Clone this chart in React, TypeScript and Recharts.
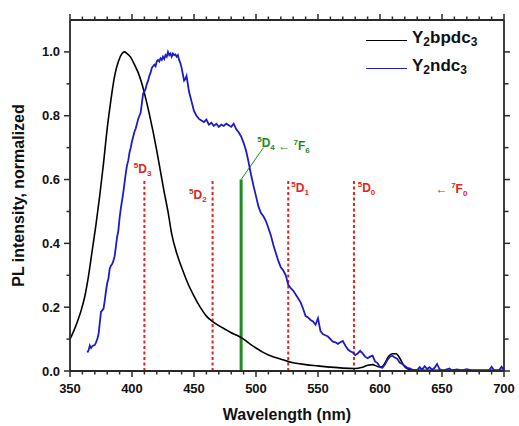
import React from "react";
import {
  ComposedChart,
  Line,
  XAxis,
  YAxis,
  ReferenceLine,
  ReferenceDot,
} from "recharts";

// ---------- data ----------
const bpdcX = [350,353,356,359,362,365,368,371,374,377,380,383,386,389,392,394,396,399,402,405,408,411,414,417,420,423,426,429,432,436,440,445,450,455,460,465,470,475,480,485,490,495,500,505,510,515,520,525,530,540,550,560,570,580,585,590,594,598,601,604,607,610,613,616,619,622,628,640,660,680,700];
const bpdcY = [0.1,0.125,0.155,0.19,0.235,0.3,0.38,0.46,0.55,0.65,0.76,0.85,0.925,0.97,0.995,1.0,0.995,0.983,0.96,0.935,0.9,0.855,0.805,0.75,0.69,0.625,0.56,0.5,0.43,0.37,0.325,0.275,0.235,0.2,0.172,0.155,0.142,0.131,0.12,0.111,0.1,0.085,0.072,0.06,0.05,0.043,0.037,0.031,0.026,0.02,0.016,0.012,0.009,0.008,0.011,0.018,0.02,0.014,0.012,0.025,0.046,0.054,0.054,0.04,0.018,0.007,0.003,0.002,0.002,0.002,0.002];

const ndcX = [364,365,366,367,368,369,370,371,372,373,374,375,376,377,378,379,380,381,382,383,384,385,386,387,388,389,390,391,392,393,394,395,396,397,398,399,400,401,402,403,404,405,406,407,408,409,410,411,412,413,414,415,416,417,418,419,420,421,422,423,424,425,426,427,428,429,430,431,432,433,434,435,436,437,438,439,440,441,442,443,444,445,446,447,448,449,450,452,454,456,458,460,462,464,466,468,470,472,474,476,478,480,482,484,486,488,490,492,494,496,498,500,502,504,506,508,510,512,514,516,518,520,522,524,526,528,530,532,534,536,538,540,542,544,546,548,550,552,554,556,558,560,562,564,566,568,570,572,574,576,578,580,582,584,586,588,590,592,594,596,598,600,602,604,606,608,610,612,614,616,618,620,622,624,626,628,630,632,634,636,638,640,642,644,646,648,650,652,656,658,662,666,670,674,680,688,690,692,696,698,700];
const ndcY = [0.058,0.065,0.08,0.072,0.078,0.08,0.082,0.09,0.1,0.115,0.15,0.185,0.19,0.195,0.22,0.25,0.275,0.29,0.32,0.33,0.335,0.345,0.36,0.39,0.42,0.44,0.48,0.51,0.535,0.56,0.59,0.62,0.645,0.66,0.685,0.7,0.72,0.735,0.75,0.76,0.775,0.79,0.8,0.81,0.84,0.87,0.875,0.885,0.9,0.91,0.925,0.935,0.95,0.955,0.96,0.955,0.97,0.975,0.97,0.98,0.975,0.985,0.978,0.99,0.985,1.0,0.99,0.995,0.985,0.995,0.99,0.992,0.985,0.99,0.975,0.965,0.95,0.93,0.91,0.915,0.925,0.9,0.875,0.86,0.845,0.83,0.815,0.8,0.79,0.785,0.78,0.788,0.772,0.778,0.768,0.775,0.765,0.772,0.768,0.775,0.77,0.765,0.775,0.758,0.748,0.735,0.715,0.69,0.655,0.615,0.58,0.548,0.515,0.495,0.485,0.47,0.448,0.425,0.395,0.37,0.345,0.325,0.315,0.3,0.27,0.26,0.252,0.24,0.228,0.215,0.195,0.172,0.168,0.16,0.155,0.145,0.165,0.125,0.115,0.112,0.108,0.1,0.092,0.09,0.085,0.09,0.094,0.08,0.068,0.062,0.058,0.05,0.055,0.063,0.055,0.045,0.04,0.045,0.048,0.03,0.025,0.012,0.01,0.02,0.035,0.045,0.048,0.042,0.038,0.026,0.022,0.016,0.01,0.008,0.004,0.002,0.003,0.012,0.004,0.015,0.006,0.012,0.004,0.01,0.022,0.006,0.002,0.003,0.008,0.002,0.005,0.002,0.006,0.002,0.002,0.002,0.013,0.002,0.002,0.013,0.003];

const xTicks = [350,360,370,380,390,400,410,420,430,440,450,460,470,480,490,500,510,520,530,540,550,560,570,580,590,600,610,620,630,640,650,660,670,680,690,700];
const yTicks = [0,0.1,0.2,0.3,0.4,0.5,0.6,0.7,0.8,0.9,1.0];

// transition markers (nm)
const redLines = [410, 465, 526, 579];
const redTop = 0.6;
const greenLineX = 488;
const greenTop = 0.6;
const greenPointer = { x: 506, y: 0.7 };

const bpdcData = bpdcX.map((x, i) => ({ x, y: bpdcY[i] }));
const ndcData = ndcX.map((x, i) => ({ x, y: ndcY[i] }));

const FONT = "'Liberation Sans', Arial, Helvetica, sans-serif";
const AXIS = "#2a2a2a";
const RED = "#e02424";
const GREEN = "#1f8a1f";
const BLUE = "#1c1cc8";

// ---------- ticks ----------
const BottomTick = (props: any) => {
  const { x, y, payload } = props;
  const major = Math.round(payload.value) % 50 === 0;
  return (
    <g>
      <line x1={x} x2={x} y1={y} y2={y + (major ? 6 : 3.5)} stroke={AXIS} strokeWidth={1.5} />
      {major && (
        <text x={x} y={y + 22} textAnchor="middle" fontFamily={FONT} fontWeight="bold" fontSize={13} fill="#111">
          {payload.value}
        </text>
      )}
    </g>
  );
};

const TopTick = (props: any) => {
  const { x, y, payload } = props;
  const major = Math.round(payload.value) % 50 === 0;
  return <line x1={x} x2={x} y1={y} y2={y - (major ? 6 : 3.5)} stroke={AXIS} strokeWidth={1.5} />;
};

const LeftTick = (props: any) => {
  const { x, y, payload } = props;
  const major = Math.round(payload.value * 10) % 2 === 0;
  return (
    <g>
      <line x1={x} x2={x - (major ? 6 : 3.5)} y1={y} y2={y} stroke={AXIS} strokeWidth={1.5} />
      {major && (
        <text x={x - 10} y={y + 4.5} textAnchor="end" fontFamily={FONT} fontWeight="bold" fontSize={13} fill="#111">
          {payload.value.toFixed(1)}
        </text>
      )}
    </g>
  );
};

const RightTick = (props: any) => {
  const { x, y, payload } = props;
  const major = Math.round(payload.value * 10) % 2 === 0;
  return <line x1={x} x2={x + (major ? 6 : 4.5)} y1={y} y2={y} stroke={AXIS} strokeWidth={1.5} />;
};

// ---------- term labels ----------
const term = (sup: string, base: string, sub: string, key: string) => [
  <tspan key={key + "a"} fontSize={8} dy={-5}>{sup}</tspan>,
  <tspan key={key + "b"} fontSize={12} dy={5}>{base}</tspan>,
  <tspan key={key + "c"} fontSize={8} dy={3}>{sub}</tspan>,
  <tspan key={key + "d"} fontSize={12} dy={-3}>{""}</tspan>,
];

const TermLabel = (parts: any[], color: string) => (props: any) => {
  const vb = props.viewBox || {};
  return (
    <text x={vb.x} y={vb.y} fontFamily={FONT} fontWeight="bold" fontSize={12} fill={color}>
      {parts}
    </text>
  );
};

const labels = [
  { x: 401.5, y: 0.62, parts: term("5", "D", "3", "d3"), color: RED },
  { x: 446, y: 0.54, parts: term("5", "D", "2", "d2"), color: RED },
  { x: 528.5, y: 0.56, parts: term("5", "D", "1", "d1"), color: RED },
  { x: 582, y: 0.56, parts: term("5", "D", "0", "d0"), color: RED },
  {
    x: 645,
    y: 0.558,
    parts: [<tspan key="ar" fontSize={12}>{"\u2190 "}</tspan>, ...term("7", "F", "0", "f0")],
    color: RED,
  },
  {
    x: 501,
    y: 0.703,
    parts: [
      ...term("5", "D", "4", "d4"),
      <tspan key="ar2" fontSize={12}>{" \u2190 "}</tspan>,
      ...term("7", "F", "6", "f6"),
    ],
    color: GREEN,
  },
];

const XTitle = (props: any) => {
  const vb = props.viewBox;
  return (
    <text x={vb.x + vb.width / 2} y={vb.y + 49} textAnchor="middle" fontFamily={FONT} fontWeight="bold" fontSize={16} fill="#111">
      Wavelength (nm)
    </text>
  );
};

const YTitle = (props: any) => {
  const vb = props.viewBox;
  const cx = vb.x + 24;
  const cy = vb.y + vb.height / 2;
  return (
    <text x={cx} y={cy} transform={`rotate(-90, ${cx}, ${cy})`} textAnchor="middle" fontFamily={FONT} fontWeight="bold" fontSize={16} fill="#111">
      PL intensity, normalized
    </text>
  );
};

const LegendBox = () => (
  <div
    style={{
      position: "absolute",
      left: 366,
      top: 26,
      fontFamily: FONT,
      fontWeight: "bold",
      fontSize: 17,
      color: "#111",
      lineHeight: "28px",
    }}
  >
    {[
      { name: "bpdc", color: "#000" },
      { name: "ndc", color: BLUE },
    ].map((s) => (
      <div key={s.name} style={{ display: "flex", alignItems: "center", height: 28 }}>
        <span style={{ display: "inline-block", width: 41, height: 0, borderTop: `1.6px solid ${s.color}`, marginRight: 5 }} />
        <span>
          Y<sub style={{ fontSize: 12, verticalAlign: "-3px" }}>2</sub>
          {s.name}
          <sub style={{ fontSize: 12, verticalAlign: "-3px" }}>3</sub>
        </span>
      </div>
    ))}
  </div>
);

export default function App() {
  return (
    <div style={{ position: "absolute", left: 0, top: 0, width: 519, height: 426, background: "#fff" }}>
      <ComposedChart width={519} height={426} margin={{ top: 0, right: 0, bottom: 0, left: 0 }}>
        <XAxis
          xAxisId="bottom"
          type="number"
          dataKey="x"
          domain={[350, 700]}
          ticks={xTicks}
          orientation="bottom"
          height={55}
          tickSize={0}
          tickMargin={0}
          tick={<BottomTick />}
          axisLine={{ stroke: AXIS, strokeWidth: 1.8 }}
          allowDataOverflow
          interval={0}
          label={{ content: <XTitle /> }}
        />
        <XAxis
          xAxisId="top"
          type="number"
          dataKey="x"
          domain={[350, 700]}
          ticks={xTicks}
          orientation="top"
          height={20}
          tickSize={0}
          tickMargin={0}
          tick={<TopTick />}
          axisLine={{ stroke: AXIS, strokeWidth: 1.8 }}
          allowDataOverflow
          interval={0}
        />
        <YAxis
          yAxisId="left"
          type="number"
          domain={[0, 1.1]}
          ticks={yTicks}
          orientation="left"
          width={70}
          tickSize={0}
          tickMargin={0}
          tick={<LeftTick />}
          axisLine={{ stroke: AXIS, strokeWidth: 1.8 }}
          allowDataOverflow
          interval={0}
          label={{ content: <YTitle /> }}
        />
        <YAxis
          yAxisId="right"
          type="number"
          domain={[0, 1.1]}
          ticks={yTicks}
          orientation="right"
          width={15}
          tickSize={0}
          tickMargin={0}
          tick={<RightTick />}
          axisLine={{ stroke: AXIS, strokeWidth: 1.8 }}
          allowDataOverflow
          interval={0}
        />

        {redLines.map((x) => (
          <ReferenceLine
            key={x}
            xAxisId="bottom"
            yAxisId="left"
            segment={[{ x, y: 0 }, { x, y: redTop }]}
            stroke={RED}
            strokeWidth={2}
            strokeDasharray="3 2.5"
          />
        ))}
        <ReferenceLine
          xAxisId="bottom"
          yAxisId="left"
          segment={[{ x: greenLineX, y: 0 }, { x: greenLineX, y: greenTop }]}
          stroke={GREEN}
          strokeWidth={3}
        />
        <ReferenceLine
          xAxisId="bottom"
          yAxisId="left"
          segment={[{ x: greenLineX, y: greenTop }, { x: greenPointer.x, y: greenPointer.y }]}
          stroke={GREEN}
          strokeWidth={1}
        />

        <Line
          xAxisId="bottom"
          yAxisId="left"
          data={bpdcData}
          dataKey="y"
          type="monotone"
          stroke="#000"
          strokeWidth={1.6}
          dot={false}
          activeDot={false}
          isAnimationActive={false}
        />
        <Line
          xAxisId="bottom"
          yAxisId="left"
          data={ndcData}
          dataKey="y"
          type="linear"
          stroke={BLUE}
          strokeWidth={1.8}
          dot={false}
          activeDot={false}
          isAnimationActive={false}
        />

        {labels.map((l, i) => (
          <ReferenceDot
            key={i}
            xAxisId="bottom"
            yAxisId="left"
            x={l.x}
            y={l.y}
            r={0}
            fill="none"
            stroke="none"
            label={{ content: TermLabel(l.parts, l.color) }}
          />
        ))}
      </ComposedChart>
      <LegendBox />
    </div>
  );
}
